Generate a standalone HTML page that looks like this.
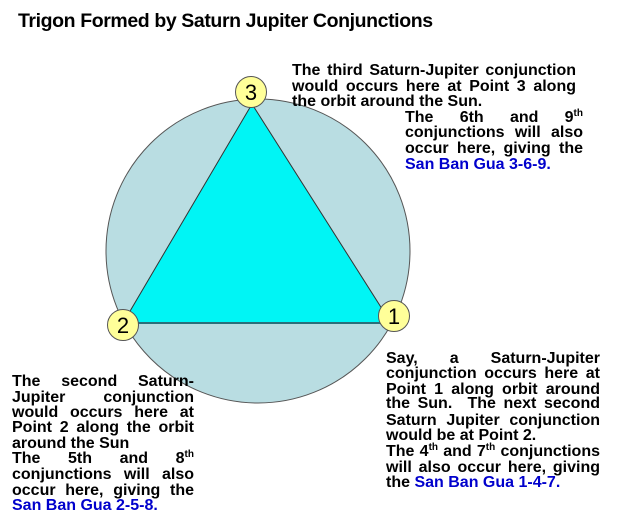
<!DOCTYPE html>
<html><head><meta charset="utf-8"><style>
html,body{margin:0;padding:0;background:#fff;}
#c{position:relative;width:618px;height:531px;overflow:hidden;font-family:"Liberation Sans",Arial,sans-serif;}
.l{position:absolute;font-weight:bold;font-size:16px;line-height:16px;height:16px;white-space:nowrap;color:#000;letter-spacing:0px;}
.j{text-align:justify;text-align-last:justify;white-space:normal;}
.b{color:#0000cc;}
sup{font-size:10px;line-height:0;vertical-align:6px;}
</style></head><body><div id="c">
<div style="position:absolute;left:18px;top:10px;font-weight:bold;font-size:19.5px;letter-spacing:-0.4px;white-space:nowrap;">Trigon Formed by Saturn Jupiter Conjunctions</div>
<svg width="618" height="531" style="position:absolute;left:0;top:0">
<circle cx="258" cy="251" r="152" fill="#b9dde2" stroke="#555" stroke-width="1"/>
<polygon points="252,104 123,323 391,323" fill="#00f5f5" stroke="#333" stroke-width="1"/>
<line x1="123" y1="323" x2="391" y2="323" stroke="#2a6f7a" stroke-width="2"/>
<g fill="#ffff99" stroke="#555" stroke-width="1">
<circle cx="251" cy="92" r="15.5"/>
<circle cx="123" cy="325" r="15.5"/>
<circle cx="394" cy="316" r="15.5"/>
</g>
<g font-family="Liberation Sans,Arial,sans-serif" font-size="22" text-anchor="middle" fill="#000">
<text x="251" y="100">3</text>
<text x="123" y="333">2</text>
<text x="394" y="324">1</text>
</g>
</svg>
<div class="l j" style="left:292px;top:63px;width:284px">The third Saturn-Jupiter conjunction</div>
<div class="l j" style="left:292px;top:79px;width:284px">would occurs here at Point 3 along</div>
<div class="l" style="left:292px;top:94px;">the orbit around the Sun.</div>
<div class="l j" style="left:405px;top:110px;width:178px">The 6th and 9<sup>th</sup></div>
<div class="l j" style="left:405px;top:125px;width:178px">conjunctions will also</div>
<div class="l j" style="left:405px;top:141px;width:178px">occur here, giving the</div>
<div class="l b" style="left:405px;top:157px;">San Ban Gua 3-6-9.</div>

<div class="l j" style="left:12px;top:374px;width:182px">The second Saturn-</div>
<div class="l j" style="left:12px;top:390px;width:182px">Jupiter conjunction</div>
<div class="l j" style="left:12px;top:405px;width:182px">would occurs here at</div>
<div class="l j" style="left:12px;top:420px;width:182px">Point 2 along the orbit</div>
<div class="l" style="left:12px;top:436px;">around the Sun</div>
<div class="l j" style="left:12px;top:451px;width:182px">The 5th and 8<sup>th</sup></div>
<div class="l j" style="left:12px;top:467px;width:182px">conjunctions will also</div>
<div class="l j" style="left:12px;top:483px;width:182px">occur here, giving the</div>
<div class="l b" style="left:12px;top:498px;">San Ban Gua 2-5-8.</div>

<div class="l j" style="left:386px;top:351px;width:214px">Say, a Saturn-Jupiter</div>
<div class="l j" style="left:386px;top:366px;width:214px">conjunction occurs here at</div>
<div class="l j" style="left:386px;top:382px;width:214px">Point 1 along orbit around</div>
<div class="l j" style="left:386px;top:396px;width:214px">the Sun.&nbsp; The next second</div>
<div class="l j" style="left:386px;top:413px;width:214px">Saturn Jupiter conjunction</div>
<div class="l" style="left:386px;top:428px;">would be at Point 2.</div>
<div class="l j" style="left:386px;top:444px;width:214px">The 4<sup>th</sup> and 7<sup>th</sup> conjunctions</div>
<div class="l j" style="left:386px;top:460px;width:214px">will also occur here, giving</div>
<div class="l" style="left:386px;top:475px;">the <span class="b">San Ban Gua 1-4-7.</span></div>
</div></body></html>
